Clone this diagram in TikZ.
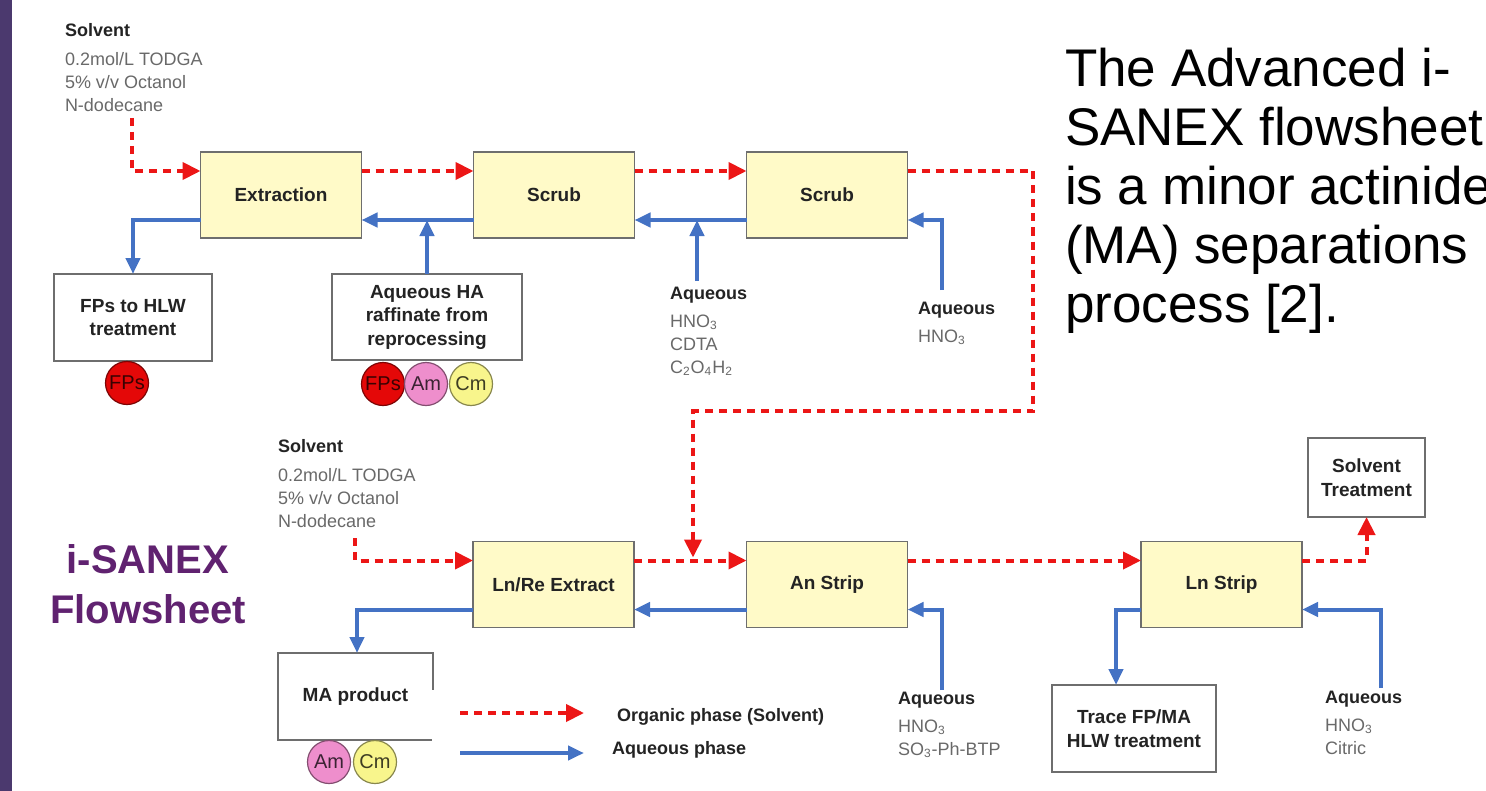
\documentclass[tikz,border=0pt]{standalone}
\usepackage{fontspec}
\setmainfont{Liberation Sans}
\usetikzlibrary{arrows.meta}

\definecolor{orgred}{RGB}{236,22,22}
\definecolor{aqblue}{RGB}{68,114,196}
\definecolor{stagefill}{RGB}{255,250,200}
\definecolor{boxline}{RGB}{110,110,110}
\definecolor{labelgrey}{RGB}{105,105,105}
\definecolor{textdark}{RGB}{35,35,35}
\definecolor{barpurple}{RGB}{75,57,110}
\definecolor{titlepurple}{RGB}{96,34,112}
\definecolor{fpred}{RGB}{228,8,8}
\definecolor{ampink}{RGB}{238,142,204}
\definecolor{cmyellow}{RGB}{248,245,140}

\tikzset{
  every node/.style={inner sep=0pt, outer sep=0pt},
  stage/.style={draw=boxline, line width=0.8pt, fill=stagefill,
    minimum width=80.5pt, minimum height=43pt, align=center,
    font=\fontsize{9.5}{11.75}\selectfont\bfseries, text=textdark},
  sink/.style={draw=boxline, line width=0.8pt, fill=white, align=center,
    font=\fontsize{9.5}{11.75}\selectfont\bfseries, text=textdark},
  org/.style={draw=orgred, line width=2pt, dash pattern=on 4pt off 3pt,
    -{Triangle[length=9pt,width=8.5pt]}},
  aq/.style={draw=aqblue, line width=2pt, -{Triangle[length=8pt,width=7pt]}},
  feed/.style={anchor=north west, align=left,
    font=\fontsize{9}{11.5}\selectfont, text=labelgrey},
  elem/.style={circle, draw=#1!55!black, fill=#1, line width=0.6pt,
    minimum size=21.5pt, text=#1!25!black, font=\fontsize{10}{12}\selectfont},
  legendtext/.style={anchor=west, font=\fontsize{9}{11}\selectfont\bfseries, text=textdark},
}

\begin{document}
\begin{tikzpicture}[x=0.5pt, y=-0.5pt]
  \useasboundingbox (0,0) rectangle (1486,791);
  \fill[white] (0,0) rectangle (1486,791);
  \fill[barpurple] (0,0) rectangle (12,791);

  % side title and description
  \node[anchor=north, align=center, text=titlepurple,
        font=\fontsize{20}{25}\selectfont\bfseries] (title) at (148,545) {i-SANEX\\Flowsheet};
  \node[anchor=north west, align=left, text=black,
        font=\fontsize{26.5}{29.5}\selectfont] (desc) at (1065,48)
        {The Advanced i-\\SANEX flowsheet\\is a minor actinide\\(MA) separations\\process [2].};

  % process stages
  \node[stage] (ext)      at (281,195)    {Extraction};
  \node[stage] (scrub1)   at (554,195)    {Scrub};
  \node[stage] (scrub2)   at (827,195)    {Scrub};
  \node[stage] (lnre)     at (553.5,584.5) {Ln/Re Extract};
  \node[stage] (anstrip)  at (827,584.5)  {An Strip};
  \node[stage] (lnstrip)  at (1221.5,584.5) {Ln Strip};

  % inputs and outputs
  \node[sink, minimum width=79pt, minimum height=43.5pt] (fps) at (133,317.5) {FPs to HLW\\treatment};
  \node[sink, minimum width=95pt, minimum height=43pt] (ha) at (427,317) {Aqueous HA\\raffinate from\\reprocessing};
  \node[sink, minimum width=77.5pt, minimum height=43.5pt] (ma) at (355.5,696.5) {MA product};
  \node[sink, minimum width=82pt, minimum height=43.5pt] (trace) at (1134,728.5) {Trace FP/MA\\HLW treatment};
  \node[sink, minimum width=58.5pt, minimum height=39.5pt] (solvtreat) at (1366.5,477.5) {Solvent\\Treatment};

  % element markers
  \node[elem=fpred] (fp1) at (127,383) {FPs};
  \node[elem=fpred] (fp2) at (383,384) {FPs};
  \node[elem=ampink] (am1) at (426,384) {Am};
  \node[elem=cmyellow] (cm1) at (471,384) {Cm};
  \node[elem=ampink] (am2) at (329,762) {Am};
  \node[elem=cmyellow] (cm2) at (375,762) {Cm};

  % feed compositions
  \node[feed] (solvA) at (65,23)
    {\textcolor{textdark}{\textbf{Solvent}}\\[3pt]0.2mol/L TODGA\\5\% v/v Octanol\\N-dodecane};
  \node[feed] (solvB) at (278,439)
    {\textcolor{textdark}{\textbf{Solvent}}\\[3pt]0.2mol/L TODGA\\5\% v/v Octanol\\N-dodecane};
  \node[feed] (aqA) at (670,287)
    {\textcolor{textdark}{\textbf{Aqueous}}\\[2.5pt]HNO\textsubscript{3}\\CDTA\\C\textsubscript{2}O\textsubscript{4}H\textsubscript{2}};
  \node[feed] (aqB) at (918,302)
    {\textcolor{textdark}{\textbf{Aqueous}}\\[2.5pt]HNO\textsubscript{3}};
  \node[feed] (aqC) at (898,692)
    {\textcolor{textdark}{\textbf{Aqueous}}\\[2.5pt]HNO\textsubscript{3}\\SO\textsubscript{3}-Ph-BTP};
  \node[feed] (aqD) at (1325,691)
    {\textcolor{textdark}{\textbf{Aqueous}}\\[2.5pt]HNO\textsubscript{3}\\Citric};

  % stream end points
  \coordinate (solvtop) at (132,118);
  \coordinate (solvbot) at (355,538);
  \coordinate (ret1) at (1033,411);
  \coordinate (ret2) at (693,411);
  \coordinate (aqin1) at (697,281);
  \coordinate (aqin2) at (942,290);
  \coordinate (aqin3) at (942,690);
  \coordinate (aqin4) at (1381,688);
  \coordinate (lnreorg) at ([yshift=12pt]lnre.east);
  \coordinate (extaq) at ([yshift=-12.5pt]ext.east);
  \coordinate (scrubaq) at ([yshift=-12.5pt]scrub1.east);

  % organic (solvent) streams
  \draw[org] (solvtop) |- ([yshift=12pt]ext.west);
  \draw[org] ([yshift=12pt]ext.east) -- ([yshift=12pt]scrub1.west);
  \draw[org] ([yshift=12pt]scrub1.east) -- ([yshift=12pt]scrub2.west);
  \draw[org] ([yshift=12pt]scrub2.east) -| (ret1) -- (ret2) -- ([yshift=1.5pt]ret2 |- lnreorg);
  \draw[org] (solvbot) |- ([yshift=12pt]lnre.west);
  \draw[org] (lnreorg) -- ([yshift=12pt]anstrip.west);
  \draw[org] ([yshift=12pt]anstrip.east) -- ([yshift=12pt]lnstrip.west);
  \draw[org] ([yshift=12pt]lnstrip.east) -| (solvtreat.south);

  % aqueous streams
  \draw[aq] ([yshift=-12.5pt]ext.west) -| (fps.north);
  \draw[aq] ([yshift=-12.5pt]scrub1.west) -- (extaq);
  \draw[aq] (ha.north) -- (ha.north |- extaq);
  \draw[aq] ([yshift=-12.5pt]scrub2.west) -- (scrubaq);
  \draw[aq] (aqin1) -- (aqin1 |- scrubaq);
  \draw[aq] (aqin2) |- ([yshift=-12.5pt]scrub2.east);
  \draw[aq] ([yshift=-12.5pt]lnre.west) -| ([xshift=0.75pt]ma.north);
  \draw[aq] ([yshift=-12.5pt]anstrip.west) -- ([yshift=-12.5pt]lnre.east);
  \draw[aq] (aqin3) |- ([yshift=-12.5pt]anstrip.east);
  \draw[aq] (aqin4) |- ([yshift=-12.5pt]lnstrip.east);
  \draw[aq] ([yshift=-12.5pt]lnstrip.west) -| ([xshift=-9pt]trace.north);

  % legend
  \fill[white] (432,690) rectangle (860,791);
  \coordinate (lo1) at (460,713);
  \coordinate (lo2) at (584,713);
  \coordinate (la1) at (460,753);
  \coordinate (la2) at (584,753);
  \draw[org] (lo1) -- (lo2);
  \draw[aq] (la1) -- (la2);
  \node[legendtext] (lorg) at (617,717) {Organic phase (Solvent)};
  \node[legendtext] (laq) at (612,750) {Aqueous phase};
\end{tikzpicture}
\end{document}
